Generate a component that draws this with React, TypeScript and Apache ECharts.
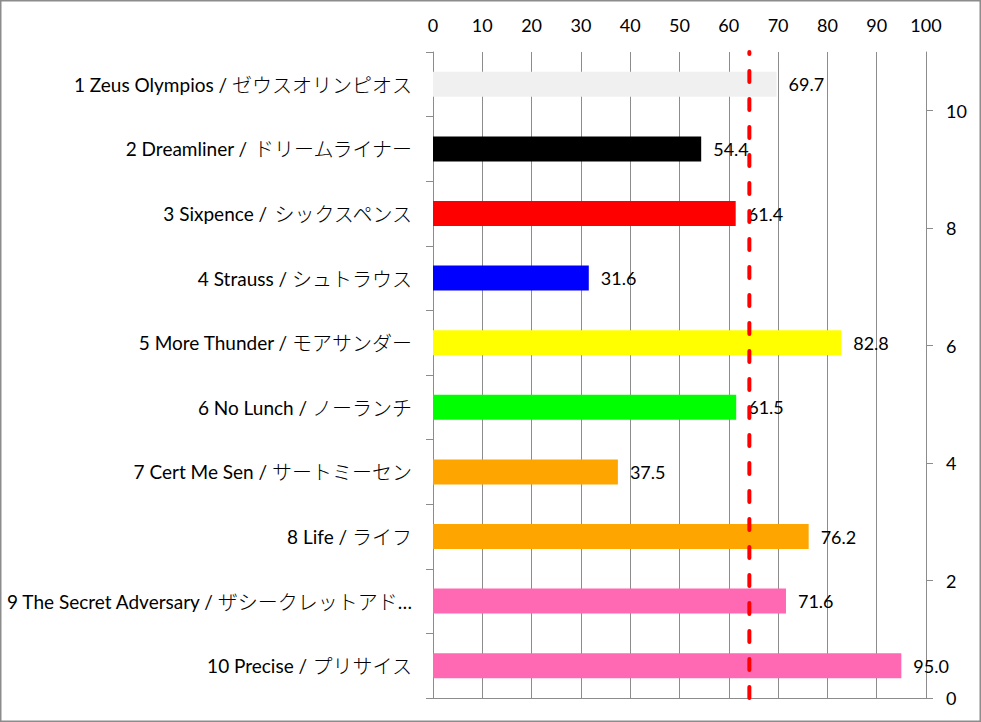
import React, { useEffect, useRef } from "react";
import * as echarts from "echarts";

const categories = [
  "1 Zeus Olympios / ゼウスオリンピオス",
  "2 Dreamliner / ドリームライナー",
  "3 Sixpence / シックスペンス",
  "4 Strauss / シュトラウス",
  "5 More Thunder / モアサンダー",
  "6 No Lunch / ノーランチ",
  "7 Cert Me Sen / サートミーセン",
  "8 Life / ライフ",
  "9 The Secret Adversary / ザシークレットアド…",
  "10 Precise / プリサイス",
];
const values = [69.7, 54.4, 61.4, 31.6, 82.8, 61.5, 37.5, 76.2, 71.6, 95.0];
const barColors = [
  "#F0F0F0",
  "#000000",
  "#FF0000",
  "#0000FF",
  "#FFFF00",
  "#00FF00",
  "#FFA500",
  "#FFA500",
  "#FF69B4",
  "#FF69B4",
];
const xTicks = { min: 0, max: 100, interval: 10 };
const rightRange = { min: 0, max: 11 };
const rightTickLabels = [0, 2, 4, 6, 8, 10];

const average = values.reduce((a, b) => a + b, 0) / values.length;

const LATIN = "Lato, 'Noto Sans', sans-serif";
const CJK = "'Noto Sans CJK JP', sans-serif";
const GRAY = "#8c8c8c";

export default function App() {
  const ref = useRef<HTMLDivElement>(null);
  useEffect(() => {
    document.body.style.margin = "0";
    const chart = echarts.init(ref.current!, null, { renderer: "svg" });
    chart.setOption({
      animation: false,
      backgroundColor: "#ffffff",
      graphic: [
        {
          type: "rect",
          shape: { x: 0.75, y: 0.75, width: 979.5, height: 720.5 },
          style: { fill: "none", stroke: GRAY, lineWidth: 1.5 },
          silent: true,
          z: 100,
        },
      ],
      grid: { left: 433, right: 55, top: 52, bottom: 24, containLabel: false },
      xAxis: {
        type: "value",
        position: "top",
        min: xTicks.min,
        max: xTicks.max,
        interval: xTicks.interval,
        axisLine: { show: true, lineStyle: { color: GRAY, width: 1 } },
        axisTick: { show: true, length: 7, lineStyle: { color: GRAY } },
        splitLine: { show: true, lineStyle: { color: GRAY, width: 1 } },
        axisLabel: { color: "#000", fontFamily: LATIN, fontSize: 18, margin: 18 },
      },
      yAxis: [
        {
          type: "category",
          data: categories,
          inverse: true,
          axisLine: { show: true, lineStyle: { color: GRAY, width: 1 } },
          axisTick: { show: true, length: 7, lineStyle: { color: GRAY } },
          splitLine: { show: false },
          axisLabel: {
            margin: 21,
            formatter: (v: string) => {
              const i = v.indexOf("/ ");
              let jp = v.slice(i + 2);
              let tail = "";
              if (jp.endsWith("…")) {
                jp = jp.slice(0, -1);
                tail = "{a|…}";
              }
              return `{a|${v.slice(0, i + 2)}}{j|${jp}}${tail}`;
            },
            rich: {
              a: { color: "#000", fontFamily: LATIN, fontSize: 19 },
              j: { color: "#000", fontFamily: CJK, fontSize: 20, fontWeight: 300 },
            },
          },
        },
        {
          type: "value",
          position: "right",
          min: rightRange.min,
          max: rightRange.max,
          axisLine: { show: true, lineStyle: { color: GRAY, width: 1 } },
          axisTick: { show: true, length: 7, lineStyle: { color: GRAY }, customValues: rightTickLabels },
          splitLine: { show: false },
          axisLabel: {
            color: "#000",
            fontFamily: LATIN,
            fontSize: 18,
            margin: 20,
            customValues: rightTickLabels,
          },
        },
      ],
      series: [
        {
          type: "bar",
          xAxisIndex: 0,
          yAxisIndex: 0,
          barWidth: 25,
          data: values.map((v, i) => ({ value: v, itemStyle: { color: barColors[i] } })),
          label: {
            show: true,
            position: "right",
            distance: 12,
            color: "#000",
            fontFamily: LATIN,
            fontSize: 18,
            formatter: (p: any) => Number(p.value).toFixed(1),
          },
          z: 2,
        },
        {
          type: "line",
          xAxisIndex: 0,
          yAxisIndex: 1,
          data: [
            [average, rightRange.min],
            [average, rightRange.max],
          ],
          symbol: "none",
          lineStyle: { color: "#FF0000", width: 4, type: [11, 17], cap: "round" },
          z: 3,
        },
      ],
    });
    return () => chart.dispose();
  }, []);
  return <div ref={ref} style={{ width: 981, height: 722 }} />;
}
